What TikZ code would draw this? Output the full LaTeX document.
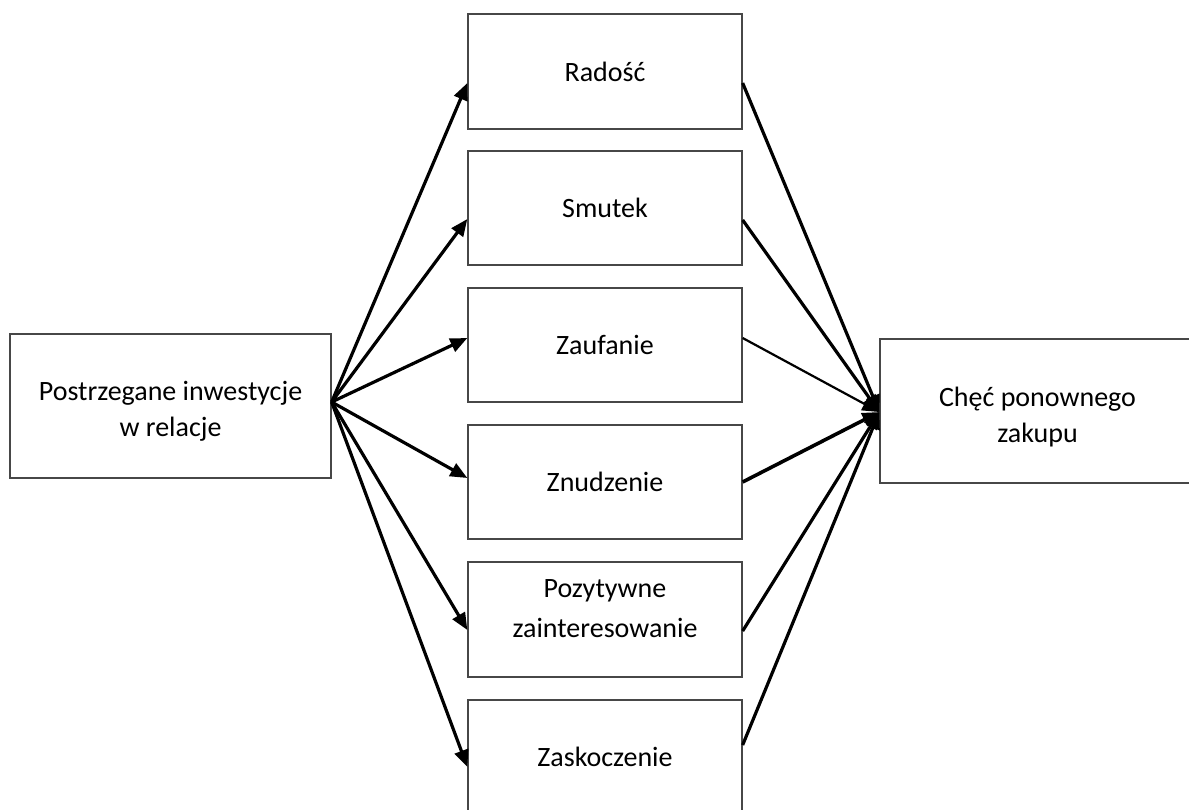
\documentclass[tikz,border=0pt]{standalone}
\usepackage{fontspec}
\setmainfont{Carlito}
\usetikzlibrary{arrows.meta}
\begin{document}
\begin{tikzpicture}[x=1pt,y=-1pt,
  box/.style={draw=black!72,line width=1.3pt,fill=white,inner sep=0pt,
    align=center,font=\fontsize{28}{36}\selectfont},
  link/.style={line width=3.2pt,black},
  arr/.style={link,-{Triangle[length=17pt,width=14pt]}}]
\useasboundingbox (0,0) rectangle (1189,809);
\clip (0,0) rectangle (1189,809);
% source, six emotions, outcome
\node[box,minimum width=321pt,minimum height=144pt] (src) at (170.5,406)
  {\rule{0pt}{30pt}Postrzegane inwestycje\\w relacje};
\node[box,minimum width=274pt,minimum height=115pt] (rad) at (605,71.5) {Radość};
\node[box,minimum width=274pt,minimum height=114pt] (smu) at (605,208) {Smutek};
\node[box,minimum width=274pt,minimum height=114pt] (zau) at (605,345) {Zaufanie};
\node[box,minimum width=274pt,minimum height=114pt] (znu) at (605,482) {Znudzenie};
\node[box,minimum width=274pt,minimum height=115pt] (poz) at (605,619.5)
  {Pozytywne\\[4pt]zainteresowanie\rule[-22pt]{0pt}{0pt}};
\node[box,minimum width=274pt,minimum height=114pt] (zas) at (605,757) {Zaskoczenie};
\node[box,minimum width=315pt,minimum height=144pt] (out) at (1037.5,411)
  {\rule{0pt}{32pt}Chęć ponownego\\zakupu};
\coordinate (hub) at (src.east |- 0,402);
\coordinate (sink) at (out.west |- 0,412);
% arrows into the emotions
\draw[arr] (hub) -- (rad.west |- 0,83);
\draw[arr] (hub) -- (smu.west |- 0,219);
\draw[arr] (hub) -- (zau.west |- 0,338);
\draw[arr] (hub) -- (znu.west |- 0,478);
\draw[arr] (hub) -- (poz.west |- 0,630);
\draw[arr] (hub) -- (zas.west |- 0,767);
% arrows into the outcome
\draw[arr] (rad.east |- 0,83) -- (sink);
\draw[arr] (smu.east |- 0,220) -- (sink);
\draw[arr,line width=2.2pt] (zau.east |- 0,338) -- (sink);
\draw[arr,line width=3.6pt] (znu.east |- 0,482) -- (sink);
\draw[arr] (poz.east |- 0,631) -- (sink);
\draw[arr] (zas.east |- 0,745) -- (sink);
\end{tikzpicture}
\end{document}
